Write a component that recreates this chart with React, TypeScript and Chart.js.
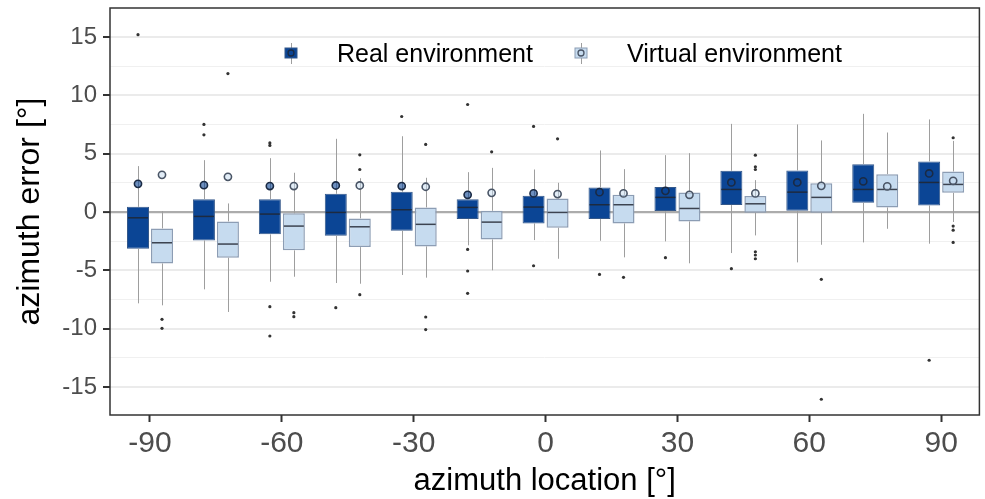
import React, { useEffect, useRef } from 'react';
import { Chart, registerables } from 'chart.js';

Chart.register(...registerables);

// ---------- data ----------
const LOCATIONS = [-90, -75, -60, -45, -30, -15, 0, 15, 30, 45, 60, 75, 90];
const X_TICKS = [-90, -60, -30, 0, 30, 60, 90];
const Y_TICKS = [-15, -12.5, -10, -7.5, -5, -2.5, 0, 2.5, 5, 7.5, 10, 12.5, 15];
const SERIES_NAMES = ['Real environment', 'Virtual environment'];
const X_TITLE = 'azimuth location [°]';
const Y_TITLE = 'azimuth error [°]';

const realQ1 = [-3.14, -2.43, -1.91, -2.03, -1.6, -0.6, -0.97, -0.6, 0.09, 0.6, 0.11, 0.8, 0.57];
const realQ3 = [0.45, 1.11, 1.11, 1.57, 1.74, 1.11, 1.4, 2.11, 2.14, 3.54, 3.57, 4.11, 4.34];
const realMedian = [-0.49, -0.37, -0.17, -0.03, 0.2, 0.4, 0.43, 0.63, 1.26, 1.94, 1.71, 1.94, 2.54];
const realWhiskerLow = [-7.82, -6.62, -5.97, -6.08, -5.39, -2.85, -2.4, -2.46, -2.51, -3.51, -4.31, -2.6, -2.71];
const realWhiskerHigh = [3.94, 4.45, 4.62, 6.28, 6.5, 3.42, 3.65, 5.28, 4.88, 7.56, 7.51, 8.42, 7.94];
const realMean = [2.42, 2.31, 2.23, 2.28, 2.23, 1.48, 1.6, 1.71, 1.82, 2.54, 2.54, 2.63, 3.31];
const realOutliers = [
  [15.2], [7.51, 6.62], [5.93, 5.71, -8.11, -10.62], [-8.19], [8.19],
  [9.22, -3.2, -5.05, -6.96], [7.34, -4.6], [-5.34], [-3.91], [-4.85], [], [], [-12.7],
];

const virtQ1 = [-4.4, -3.91, -3.28, -3.0, -2.94, -2.34, -1.34, -0.97, -0.8, -0.06, -0.06, 0.4, 1.65];
const virtQ3 = [-1.4, -0.8, -0.11, -0.54, 0.4, 0.11, 1.17, 1.48, 1.68, 1.37, 2.48, 3.25, 3.48];
const virtMedian = [-2.63, -2.74, -1.2, -1.26, -1.05, -0.86, -0.03, 0.63, 0.31, 0.71, 1.26, 1.94, 2.37];
const virtWhiskerLow = [-7.99, -8.56, -5.54, -6.14, -5.62, -4.99, -4.0, -3.88, -4.39, -2.0, -2.8, -1.43, -0.85];
const virtWhiskerHigh = [0.09, 0.74, 3.37, 2.9, 2.94, 3.79, 2.51, 3.68, 5.05, 2.74, 6.14, 6.82, 6.1];
const virtMean = [3.19, 3.02, 2.23, 2.28, 2.17, 1.65, 1.54, 1.6, 1.48, 1.6, 2.25, 2.2, 2.68];
const virtOutliers = [
  [-9.19, -9.96], [11.87], [-8.62, -8.96], [4.91, 3.65, -7.08], [5.8, -8.99, -10.07],
  [5.16], [6.28], [-5.59], [], [4.88, 3.88, 3.65, -3.4, -3.68, -4.0], [-5.76, -16.04], [], [6.37, -1.2, -1.55, -2.6],
];

// ---------- styling ----------
const FONT = '"Liberation Sans", Arial, Helvetica, sans-serif';
const REAL_FILL = '#0b4595';
const REAL_BORDER = '#34588a';
const VIRT_FILL = '#c6dbef';
const VIRT_BORDER = '#8c9db4';
const CAT_PCT = 0.728;
const BAR_PCT = 0.917;
const GROUP_STEP = LOCATIONS[1] - LOCATIONS[0];
const DODGE = (GROUP_STEP * CAT_PCT) / 4;

const STATS = [
  { low: realWhiskerLow, high: realWhiskerHigh, q1: realQ1, q3: realQ3, med: realMedian },
  { low: virtWhiskerLow, high: virtWhiskerHigh, q1: virtQ1, q3: virtQ3, med: virtMedian },
];

const isMajor = (v: number) => Math.abs(v % 5) < 1e-9;

const whiskerPlugin = {
  id: 'whiskers',
  afterDatasetDraw(chart: any, args: any) {
    const meta = args.meta;
    if (meta.type !== 'bar') return;
    const st = STATS[args.index];
    if (!st) return;
    const y = chart.scales.y;
    const ctx = chart.ctx;
    ctx.save();
    meta.data.forEach((el: any, i: number) => {
      const { x, width } = el.getProps(['x', 'width'], true);
      const cx = Math.round(x) + 0.5;
      ctx.strokeStyle = '#9e9e9e';
      ctx.lineWidth = 1;
      ctx.beginPath();
      ctx.moveTo(cx, y.getPixelForValue(st.q3[i]));
      ctx.lineTo(cx, y.getPixelForValue(st.high[i]));
      ctx.moveTo(cx, y.getPixelForValue(st.q1[i]));
      ctx.lineTo(cx, y.getPixelForValue(st.low[i]));
      ctx.stroke();
      ctx.strokeStyle = args.index === 0 ? '#1d2a3f' : '#3c4350';
      ctx.lineWidth = 1.5;
      const my = y.getPixelForValue(st.med[i]);
      ctx.beginPath();
      ctx.moveTo(x - width / 2 + 1, my);
      ctx.lineTo(x + width / 2 - 1, my);
      ctx.stroke();
    });
    ctx.restore();
  },
};

const framePlugin = {
  id: 'frame',
  afterDraw(chart: any) {
    const { ctx, chartArea: a } = chart;
    ctx.save();
    ctx.strokeStyle = '#333333';
    ctx.lineWidth = 1.5;
    ctx.strokeRect(a.left, a.top, a.right - a.left, a.bottom - a.top);
    ctx.restore();
  },
};

const legendPlugin = {
  id: 'insideLegend',
  afterDraw(chart: any) {
    const ctx = chart.ctx;
    const a = chart.chartArea;
    const items = [
      { name: SERIES_NAMES[0], fill: REAL_FILL, border: REAL_BORDER, mf: 'rgba(11,69,149,0.6)', mb: '#1a2a44', kx: a.left + 181 },
      { name: SERIES_NAMES[1], fill: VIRT_FILL, border: VIRT_BORDER, mf: 'rgba(198,219,239,0.5)', mb: '#4a5566', kx: a.left + 471 },
    ];
    const cy = a.top + 45;
    ctx.save();
    items.forEach((it) => {
      ctx.strokeStyle = '#9e9e9e';
      ctx.lineWidth = 1;
      ctx.beginPath();
      ctx.moveTo(it.kx + 0.5, cy - 10);
      ctx.lineTo(it.kx + 0.5, cy + 11);
      ctx.stroke();
      ctx.fillStyle = it.fill;
      ctx.fillRect(it.kx - 6, cy - 5, 12, 10);
      ctx.strokeStyle = it.border;
      ctx.strokeRect(it.kx - 6, cy - 5, 12, 10);
      ctx.beginPath();
      ctx.arc(it.kx, cy, 3, 0, Math.PI * 2);
      ctx.fillStyle = it.mf;
      ctx.fill();
      ctx.strokeStyle = it.mb;
      ctx.lineWidth = 1.3;
      ctx.stroke();
      ctx.fillStyle = '#000000';
      ctx.font = `25px ${FONT}`;
      ctx.textBaseline = 'alphabetic';
      ctx.textAlign = 'left';
      ctx.fillText(it.name, it.kx + 46, cy + 9);
    });
    ctx.restore();
  },
};

export default function App() {
  const ref = useRef<HTMLCanvasElement | null>(null);
  useEffect(() => {
    if (!ref.current) return;
    const realBoxes = LOCATIONS.map((x, i) => ({ x, y: [realQ1[i], realQ3[i]] }));
    const virtBoxes = LOCATIONS.map((x, i) => ({ x, y: [virtQ1[i], virtQ3[i]] }));
    const realMeanPts = LOCATIONS.map((x, i) => ({ x: x - DODGE, y: realMean[i] }));
    const virtMeanPts = LOCATIONS.map((x, i) => ({ x: x + DODGE, y: virtMean[i] }));
    const realOutPts = LOCATIONS.flatMap((x, i) => realOutliers[i].map((v) => ({ x: x - DODGE, y: v })));
    const virtOutPts = LOCATIONS.flatMap((x, i) => virtOutliers[i].map((v) => ({ x: x + DODGE, y: v })));

    const chart = new Chart(ref.current, {
      type: 'bar',
      data: {
        datasets: [
          {
            type: 'bar', label: SERIES_NAMES[0], data: realBoxes as any,
            backgroundColor: REAL_FILL, borderColor: REAL_BORDER, borderWidth: 1, borderSkipped: false,
            categoryPercentage: CAT_PCT, barPercentage: BAR_PCT, order: 3,
          },
          {
            type: 'bar', label: SERIES_NAMES[1], data: virtBoxes as any,
            backgroundColor: VIRT_FILL, borderColor: VIRT_BORDER, borderWidth: 1.5, borderSkipped: false,
            categoryPercentage: CAT_PCT, barPercentage: BAR_PCT, order: 3,
          },
          {
            type: 'scatter', label: 'real outliers', data: realOutPts as any,
            pointRadius: 1.6, backgroundColor: '#333333', borderWidth: 0, order: 1,
          },
          {
            type: 'scatter', label: 'virtual outliers', data: virtOutPts as any,
            pointRadius: 1.6, backgroundColor: '#333333', borderWidth: 0, order: 1,
          },
          {
            type: 'scatter', label: 'real mean', data: realMeanPts as any,
            pointRadius: 3.6, backgroundColor: 'rgba(11,69,149,0.6)', borderColor: '#1a2a44', borderWidth: 1.6, order: 0,
          },
          {
            type: 'scatter', label: 'virtual mean', data: virtMeanPts as any,
            pointRadius: 3.6, backgroundColor: 'rgba(198,219,239,0.5)', borderColor: '#4a5566', borderWidth: 1.6, order: 0,
          },
        ],
      },
      options: {
        responsive: false,
        animation: false,
        devicePixelRatio: 1,
        events: [],
        layout: { padding: { top: 8, right: 5, left: 0, bottom: 0 } },
        plugins: { legend: { display: false }, tooltip: { enabled: false } },
        scales: {
          x: {
            type: 'linear',
            min: -99.1,
            max: 98.7,
            offset: false,
            afterBuildTicks: (s: any) => { s.ticks = X_TICKS.map((v) => ({ value: v })); },
            afterFit: (s: any) => { s.height = 84; s.paddingLeft = 0; s.paddingRight = 0; },
            grid: { offset: false, drawOnChartArea: false, drawTicks: true, tickLength: 7, tickColor: '#333333', tickWidth: 2 },
            border: { display: false },
            ticks: {
              autoSkip: false, maxRotation: 0, padding: 4, color: '#4d4d4d',
              font: { family: FONT, size: 30, lineHeight: 1.2 },
              callback: (v: any) => String(v),
            },
            title: {
              display: true, text: X_TITLE, color: '#000000',
              font: { family: FONT, size: 31, lineHeight: 1 }, padding: { top: 0, bottom: 2 },
            },
          },
          y: {
            type: 'linear',
            min: -17.39,
            max: 17.49,
            afterBuildTicks: (s: any) => { s.ticks = Y_TICKS.map((v) => ({ value: v })); },
            afterFit: (s: any) => { s.width = 110; s.paddingTop = 0; s.paddingBottom = 0; },
            grid: {
              offset: false, drawOnChartArea: true, drawTicks: true, tickLength: 7, tickWidth: 2,
              color: (c: any) => {
                const v = c.tick ? c.tick.value : 1;
                if (v === 0) return '#acacac';
                return isMajor(v) ? '#ebebeb' : '#f0f0f0';
              },
              lineWidth: (c: any) => {
                const v = c.tick ? c.tick.value : 1;
                if (v === 0) return 2.2;
                return isMajor(v) ? 2 : 1;
              },
              tickColor: (c: any) => {
                const v = c.tick ? c.tick.value : 1;
                return isMajor(v) ? '#333333' : 'rgba(0,0,0,0)';
              },
            },
            border: { display: false },
            ticks: {
              autoSkip: false, padding: 6, color: '#4d4d4d',
              font: { family: FONT, size: 24 },
              callback: (v: any) => (isMajor(Number(v)) ? String(v) : ''),
            },
            title: {
              display: true, text: Y_TITLE, color: '#000000',
              font: { family: FONT, size: 32, lineHeight: 1 }, padding: { top: 14, bottom: 0 },
            },
          },
        },
      } as any,
      plugins: [whiskerPlugin, framePlugin, legendPlugin],
    });
    return () => chart.destroy();
  }, []);

  return (
    <div style={{ position: 'absolute', left: 0, top: 0, width: 985, height: 499, background: '#ffffff' }}>
      <canvas ref={ref} width={985} height={499} style={{ display: 'block', width: 985, height: 499 }} />
    </div>
  );
}
